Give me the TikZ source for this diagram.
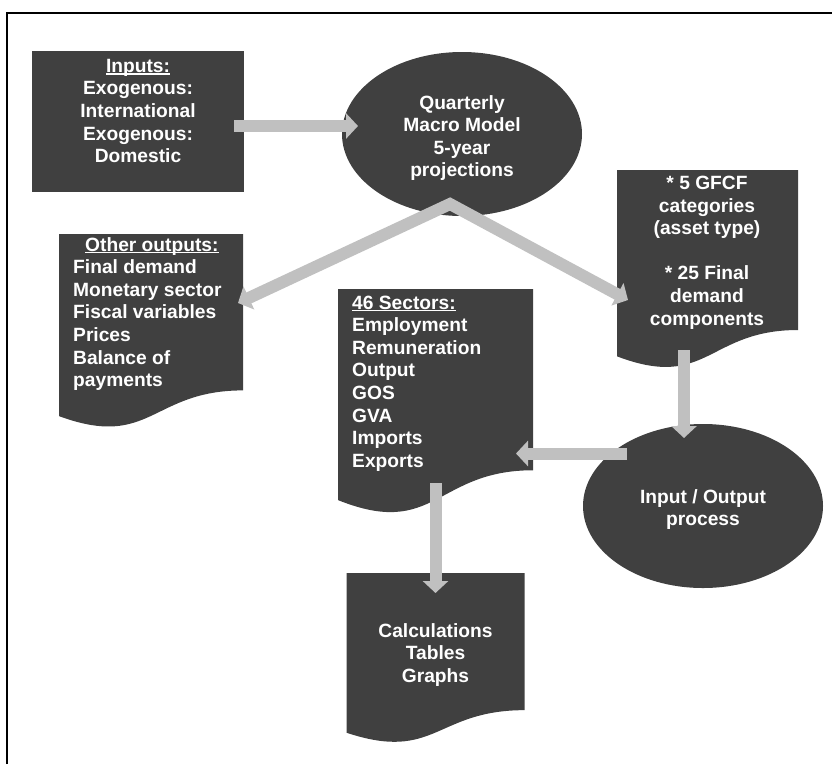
\documentclass[tikz,border=0pt]{standalone}
\usepackage{fontspec}
\setmainfont{Liberation Sans}
\usetikzlibrary{shapes.geometric,arrows.meta,calc}
\definecolor{dk}{HTML}{404040}
\definecolor{ar}{HTML}{C0C0C0}
\newsavebox\hdrbox
\newcommand\hdr[1]{\sbox\hdrbox{#1}\rlap{\rule[-2.3pt]{\wd\hdrbox}{1.4pt}}\usebox\hdrbox}
\newcommand\lblfont{\fontsize{19.2}{22.6}\selectfont\bfseries}
\newcommand\docfill[1]{\fill[dk] (#1.north west) -- (#1.north east) -- ($(#1.north east)!0.802!(#1.south east)$) .. controls ($(#1.north)!0.802!(#1.south)$) and ($(#1.north)!1.107!(#1.south)$) .. ($(#1.north west)!0.934!(#1.south west)$) -- cycle;}
\tikzset{
  box/.style={rectangle, fill=dk, inner sep=0pt, outer sep=0pt},
  frame/.style={rectangle, inner sep=0pt, outer sep=0pt},
  oval/.style={ellipse, fill=dk, inner sep=0pt, outer sep=0pt, minimum width=240pt, minimum height=164pt},
  lbl/.style={text=white, font=\lblfont, inner sep=0pt},
  arr/.style={draw=ar, line width=12pt, line join=miter},
  gtip/.tip={Triangle[width=25pt,length=12pt]}
}
\begin{document}
\begin{tikzpicture}[x=1pt,y=-1pt]
\useasboundingbox (0,0) rectangle (832,764);
% frame
\draw[line width=2pt] (7,764) -- (7,12.5) -- (832,12.5);
% inputs
\node[box, minimum width=212pt, minimum height=141pt] (inp) at (138,121.5) {};
\node[lbl, align=center] (inptxt) at (138,111) {\hdr{Inputs:}\\Exogenous:\\International\\Exogenous:\\Domestic};
% quarterly macro model
\node[oval] (qmm) at (462,134) {};
\node[lbl, align=center] (qmmtxt) at (462,138) {Quarterly\\Macro Model\\5-year\\projections};
% other outputs
\node[frame, minimum width=184pt, minimum height=195pt] (oth) at (151,331.5) {};
\docfill{oth}
\node[lbl, align=left, anchor=west] (othtxt) at (73,314) {\hspace*{12pt}\hdr{Other outputs:}\\Final demand\\Monetary sector\\Fiscal variables\\Prices\\Balance of\\payments};
% 46 sectors
\node[frame, minimum width=195pt, minimum height=226pt] (sec) at (435.5,402) {};
\docfill{sec}
\node[lbl, align=left, anchor=west] (sectxt) at (352,383.5) {\hdr{46 Sectors:}\\Employment\\Remuneration\\Output\\GOS\\GVA\\Imports\\Exports};
% GFCF
\node[frame, minimum width=181pt, minimum height=199.5pt] (gfcf) at (707.5,269.75) {};
\docfill{gfcf}
\node[lbl, align=center] (gfcftxt) at (707,252.5) {* 5 GFCF\\categories\\(asset type)\\[22.6pt]* 25 Final\\demand\\components};
% input/output
\node[oval] (io) at (703,506) {};
\node[lbl, align=center] (iotxt) at (703,509.5) {Input / Output\\process};
% calculations
\node[frame, minimum width=178pt, minimum height=171pt] (cal) at (435.5,658.5) {};
\docfill{cal}
\node[lbl, align=center] (caltxt) at (435.5,655) {Calculations\\Tables\\Graphs};
% arrows
\draw[arr, -gtip] ([xshift=-10pt,yshift=-4.5pt]inp.east) -- ([xshift=16pt,yshift=8pt]qmm.west);
\draw[arr, gtip-gtip] ([xshift=-5pt,yshift=-69pt]oth.north east) -- ([xshift=-12pt,yshift=12pt]qmm.south) -- ([xshift=11pt,yshift=-130pt]gfcf.north west);
\draw[arr, -gtip] ([xshift=-23.5pt,yshift=19.5pt]gfcf.south) -- ([xshift=-19pt,yshift=-14pt]io.north);
\draw[arr, -gtip] ([xshift=44pt,yshift=52.5pt]io.west) -- ([xshift=-17pt,yshift=-51.5pt]sec.east);
\draw[arr, -gtip] ([yshift=32pt]sec.south) -- ([yshift=-20pt]cal.north);
\end{tikzpicture}
\end{document}
